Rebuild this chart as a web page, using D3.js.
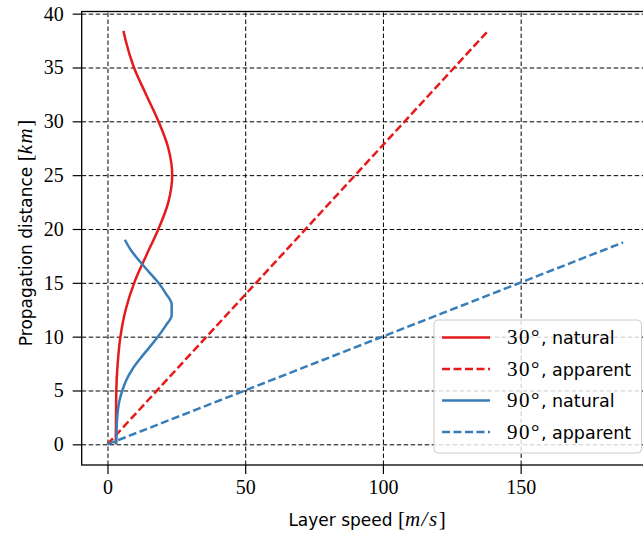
<!DOCTYPE html>
<html>
<head>
<meta charset="utf-8">
<script src="https://cdn.jsdelivr.net/npm/d3@7"></script>
<style>
  body { margin: 0; background: #fff; }
  .tick text { font-family: "Liberation Serif", serif; font-size: 20px; fill: #000; }
  .grid line { stroke: #000; stroke-width: 1; stroke-dasharray: 4.5,2.5; }
  .grid path { display: none; }
  .math { font-family: "Liberation Serif", serif; font-size: 21px; }
</style>
</head>
<body>
<svg id="chart"></svg>
<script>
// layer speed (m/s) against propagation distance (km)
var natural30Dist  = [0, 2.5, 5, 7.5, 10, 12.5, 15, 17.5, 20, 22.5, 25, 27.5, 30, 32.5, 35, 37.5, 38.4];
var natural30Speed = [3.0, 3.1, 3.2, 3.7, 4.7, 6.6, 9.7, 14.0, 18.5, 22.1, 23.5, 22.1, 18.5, 14.0, 9.6, 6.6, 5.8];

var natural90Dist  = [0, 1, 2, 3, 4, 5, 6, 7, 8, 9, 10, 11, 12, 13, 14, 15, 16, 17, 18, 19.0];
var natural90Speed = [3.2, 3.3, 3.4, 3.7, 4.3, 5.4, 6.9, 9.1, 12.0, 15.2, 18.3, 21.1, 23.3, 23.3, 21.2, 18.5, 15.1, 11.7, 8.6, 6.3];

var apparent30Dist  = [0, 38.3];
var apparent30Speed = [0, 137.8];
var apparent90Dist  = [0, 18.75];
var apparent90Speed = [0, 187.2];

var xTicks = [0, 50, 100, 150];
var yTicks = [0, 5, 10, 15, 20, 25, 30, 35, 40];

var series = [
    { label: "30°", kind: ", natural",  color: "#e41a1c", dash: null,  speed: natural30Speed,  dist: natural30Dist },
    { label: "30°", kind: ", apparent", color: "#e41a1c", dash: "8,3.5", speed: apparent30Speed, dist: apparent30Dist },
    { label: "90°", kind: ", natural",  color: "#377eb8", dash: null,  speed: natural90Speed,  dist: natural90Dist },
    { label: "90°", kind: ", apparent", color: "#377eb8", dash: "8,3.5", speed: apparent90Speed, dist: apparent90Dist }
];

// basic settings
var width = 643, height = 535;
var axLeft = 81.7, axRight = 649, axTop = 11.5, axBottom = 465;

var svg = d3.select("#chart")
    .attr("width", width)
    .attr("height", height);

var x = d3.scaleLinear().domain([-9.36, 196.6]).range([axLeft, axRight]);
var y = d3.scaleLinear().domain([-1.92, 40.2]).range([axBottom, axTop]);

svg.append("clipPath").attr("id", "plotArea")
    .append("rect")
    .attr("x", axLeft).attr("y", axTop)
    .attr("width", axRight - axLeft).attr("height", axBottom - axTop);

// dashed grid
svg.append("g")
    .attr("class", "grid")
    .attr("transform", "translate(0," + axBottom + ")")
    .call(d3.axisBottom(x).tickValues(xTicks).tickSize(-(axBottom - axTop)).tickFormat(""));
svg.append("g")
    .attr("class", "grid")
    .attr("transform", "translate(" + axLeft + ",0)")
    .call(d3.axisLeft(y).tickValues(yTicks).tickSize(-(axRight - axLeft)).tickFormat(""));

// curves
var line = d3.line()
    .x(function(d) { return x(d[0]); })
    .y(function(d) { return y(d[1]); })
    .curve(d3.curveMonotoneY);

var plot = svg.append("g").attr("clip-path", "url(#plotArea)");
series.forEach(function(s) {
    plot.append("path")
        .datum(d3.zip(s.speed, s.dist))
        .attr("d", line)
        .attr("fill", "none")
        .attr("stroke", s.color)
        .attr("stroke-width", 2.5)
        .attr("stroke-dasharray", s.dash);
});

// axes
var xAxis = svg.append("g")
    .attr("transform", "translate(0," + axBottom + ")")
    .call(d3.axisBottom(x).tickValues(xTicks).tickSize(9).tickPadding(6).tickFormat(d3.format("d")));
var yAxis = svg.append("g")
    .attr("transform", "translate(" + axLeft + ",0)")
    .call(d3.axisLeft(y).tickValues(yTicks).tickSize(9).tickPadding(9).tickFormat(d3.format("d")));
[xAxis, yAxis].forEach(function(a) {
    a.select(".domain").remove();
    a.selectAll(".tick line").attr("stroke", "#000").attr("stroke-width", 1.2);
});

// spines (right side runs off the canvas)
svg.append("rect")
    .attr("x", axLeft).attr("y", axTop)
    .attr("width", axRight - axLeft).attr("height", axBottom - axTop)
    .attr("fill", "none")
    .attr("stroke", "#000")
    .attr("stroke-width", 1.3);

// axis labels, units set as math
function unitLabel(sel, words, unit) {
    sel.append("tspan").text(words);
    sel.append("tspan").attr("class", "math").text("[");
    sel.append("tspan").attr("class", "math").style("font-style", "italic")
        .style("letter-spacing", "1.5px").text(unit);
    sel.append("tspan").attr("class", "math").text("]");
}

var xl = svg.append("text")
    .attr("x", 367)
    .attr("y", 526)
    .attr("text-anchor", "middle")
    .style("font-family", "DejaVu Sans")
    .style("font-size", "17px");
unitLabel(xl, "Layer speed ", "m/s");

var yl = svg.append("text")
    .attr("transform", "translate(32,233) rotate(-90)")
    .attr("text-anchor", "middle")
    .style("font-family", "DejaVu Sans")
    .style("font-size", "17px");
unitLabel(yl, "Propagation distance ", "km");

// legend
var legend = svg.append("g").attr("class", "legend");
legend.append("rect")
    .attr("x", 434).attr("y", 320)
    .attr("width", 207.5).attr("height", 133)
    .attr("rx", 4)
    .attr("fill", "#fff")
    .attr("fill-opacity", 0.8)
    .attr("stroke", "#ccc")
    .attr("stroke-width", 1);

var rows = legend.selectAll(".row")
    .data(series)
    .enter().append("g")
    .attr("transform", function(d, i) { return "translate(0," + (337.5 + i * 31.5) + ")"; });

rows.append("line")
    .attr("x1", 442).attr("x2", 490)
    .attr("stroke", function(d) { return d.color; })
    .attr("stroke-width", 2.5)
    .attr("stroke-dasharray", function(d) { return d.dash; });

var lt = rows.append("text")
    .attr("x", 507)
    .attr("y", 6.5)
    .style("font-family", "DejaVu Sans")
    .style("font-size", "17.5px");
lt.append("tspan").attr("class", "math").style("letter-spacing", "1.5px").text(function(d) { return d.label; });
lt.append("tspan").text(function(d) { return d.kind; });
</script>
</body>
</html>
